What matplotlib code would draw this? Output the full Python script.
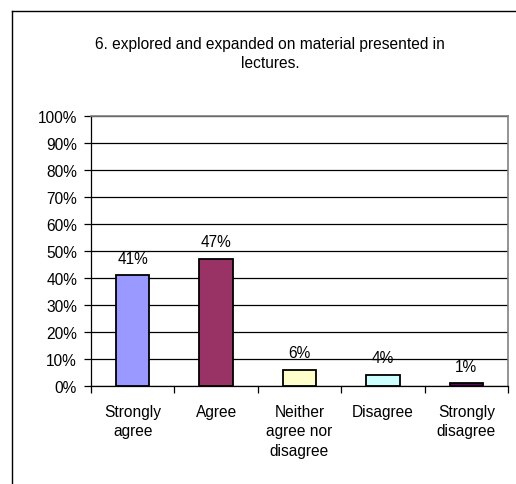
import matplotlib
matplotlib.use("Agg")
import matplotlib.pyplot as plt
from matplotlib.lines import Line2D
from matplotlib.ticker import FixedLocator, FuncFormatter

categories = ["Strongly\nagree", "Agree", "Neither\nagree nor\ndisagree", "Disagree", "Strongly\ndisagree"]
values = [41, 47, 6, 4, 1]
colors = ["#9999FF", "#993366", "#FFFFCC", "#CCFFFF", "#660066"]
title = "6. explored and expanded on material presented in\nlectures."

plt.rcParams['font.family'] = ['Liberation Sans', 'DejaVu Sans']
FS = 11.2

W, H = 516, 485
fig = plt.figure(figsize=(W / 100, H / 100), dpi=100)
fig.patch.set_facecolor("white")

# outer chart frame (left and top visible)
fig.add_artist(Line2D([12 / W, 12 / W], [0, 1 - 12 / H], color="black", lw=1.0, transform=fig.transFigure))
fig.add_artist(Line2D([12 / W, 1], [1 - 12 / H, 1 - 12 / H], color="black", lw=1.0, transform=fig.transFigure))

fig.text(270 / W, 1 - 54 / H, title, ha="center", va="center", fontsize=FS, linespacing=1.3)

ax = fig.add_axes([91 / W, 1 - 387 / H, (508 - 91) / W, (387 - 117) / H])
x = list(range(len(values)))
ax.bar(x, values, width=0.4, color=colors, edgecolor="black", linewidth=1.3, zorder=3)
ax.set_xlim(-0.5, len(values) - 0.5)
ax.set_ylim(0, 100)

ax.yaxis.set_major_locator(FixedLocator(list(range(0, 101, 10))))
ax.yaxis.set_major_formatter(FuncFormatter(lambda v, p: f"{int(v)}%"))
ax.grid(axis="y", color="black", lw=0.9, zorder=0)
ax.tick_params(axis="y", direction="out", length=5, width=0.9, pad=5, labelsize=FS)

ax.xaxis.set_major_locator(FixedLocator([i - 0.5 for i in range(len(values) + 1)]))
ax.xaxis.set_major_formatter(FuncFormatter(lambda v, p: ""))
ax.xaxis.set_minor_locator(FixedLocator(x))
ax.set_xticklabels(categories, minor=True, fontsize=FS, linespacing=1.37, va="top")
ax.tick_params(axis="x", which="major", direction="out", length=5, width=0.9)
ax.tick_params(axis="x", which="minor", length=0, pad=13)

for s in ["left", "bottom"]:
    ax.spines[s].set_color("black")
    ax.spines[s].set_linewidth(0.9)
for s in ["top", "right"]:
    ax.spines[s].set_color("#808080")
    ax.spines[s].set_linewidth(1.2)

for xi, v in zip(x, values):
    ax.annotate(f"{v}%", (xi, v), xytext=(0, 7), textcoords="offset points",
                ha="center", va="bottom", fontsize=FS)

fig.savefig("out.png", dpi=100, facecolor="white")
